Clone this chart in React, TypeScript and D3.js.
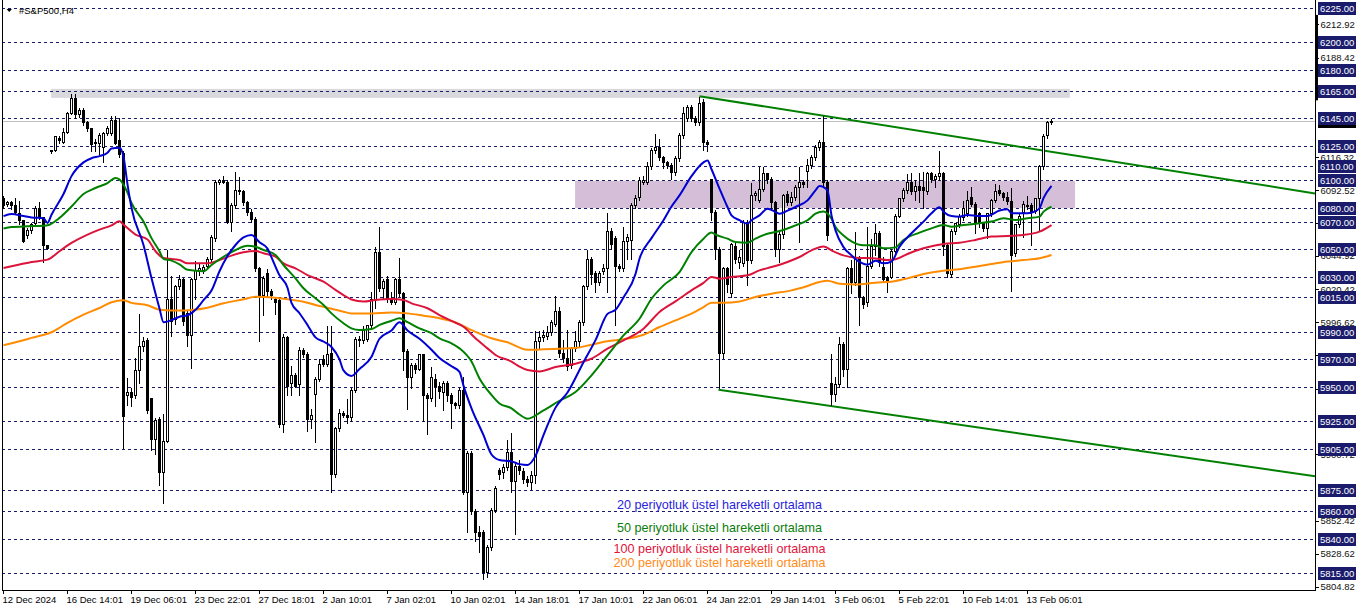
import { useEffect, useRef } from 'react'
import * as d3 from 'd3'

// #S&P500 H4 candles, one entry per bar (12 Dec 2024 -> 14 Feb 2025)
const opens = [
  6087, 6083, 6084, 6082, 6076, 6071, 6060, 6064, 6069, 6080,
  6073, 6053, 6121, 6122, 6131, 6128, 6135, 6149, 6160, 6148,
  6151, 6142, 6138, 6127, 6127, 6124, 6134, 6134, 6144, 6129,
  6120, 5944, 5946, 5944, 5962, 5980, 5984, 5942, 5912, 5927,
  5888, 5911, 6014, 5999, 6023, 6028, 6004, 5988, 6028, 6034,
  6035, 6038, 6043, 6058, 6099, 6100, 6099, 6070, 6082, 6093,
  6092, 6084, 6077, 6072, 6036, 6017, 6033, 6020, 6014, 6013,
  5923, 5986, 5953, 5959, 5952, 5977, 5974, 5927, 5945, 5956,
  5970, 5967, 5975, 5887, 5920, 5931, 5930, 5928, 5948, 5985,
  5984, 5985, 5995, 6014, 6048, 6022, 6028, 6014, 6012, 6028,
  6018, 5976, 5957, 5966, 5963, 5974, 5944, 5942, 5956, 5951,
  5946, 5953, 5944, 5938, 5937, 5948, 5874, 5902, 5860, 5845,
  5845, 5816, 5834, 5861, 5890, 5888, 5892, 5903, 5882, 5893,
  5889, 5883, 5881, 5886, 5983, 5986, 5987, 5990, 5996, 6005,
  5975, 5971, 5966, 5978, 5983, 5997, 6023, 6043, 6033, 6026,
  6034, 6036, 6063, 6058, 6038, 6036, 6056, 6057, 6082, 6088,
  6099, 6099, 6110, 6122, 6124, 6117, 6113, 6111, 6106, 6116,
  6133, 6145, 6153, 6145, 6142, 6157, 6128, 6101, 6077, 6050,
  5975, 6036, 6018, 6052, 6041, 6040, 6070, 6042, 6089, 6086,
  6094, 6105, 6101, 6084, 6050, 6061, 6090, 6084, 6088, 6095,
  6099, 6107, 6111, 6117, 6124, 6128, 6099, 5953, 5945, 5952,
  5981, 5963, 6036, 6026, 6044, 6015, 6012, 6038, 6052, 6062,
  6037, 6030, 6030, 6049, 6074, 6087, 6093, 6099, 6092, 6096,
  6095, 6092, 6105, 6101, 6103, 6105, 6053, 6032, 6063, 6068,
  6073, 6076, 6088, 6083, 6076, 6069, 6065, 6076, 6086, 6093,
  6091, 6088, 6085, 6047, 6068, 6077, 6082, 6082, 6078, 6087,
  6110, 6133, 6142,
]

const highs = [
  6089, 6086, 6086, 6088, 6086, 6072, 6066, 6070, 6082, 6085,
  6074, 6054, 6123, 6133, 6133, 6139, 6150, 6163, 6163, 6153,
  6153, 6144, 6139, 6131, 6135, 6136, 6140, 6147, 6147, 6146,
  6122, 5957, 5950, 5972, 6004, 5987, 5986, 5943, 5928, 5929,
  5931, 6050, 6031, 6025, 6032, 6030, 6006, 6030, 6042, 6041,
  6039, 6045, 6061, 6101, 6102, 6104, 6101, 6084, 6107, 6103,
  6094, 6086, 6080, 6074, 6038, 6031, 6036, 6022, 6016, 6015,
  5989, 5988, 5966, 5961, 5980, 5979, 5976, 5935, 5958, 5971,
  5974, 5995, 5995, 5922, 5935, 5933, 5942, 5950, 5987, 5988,
  5995, 5996, 6020, 6052, 6067, 6029, 6031, 6020, 6030, 6044,
  6020, 5978, 5968, 5968, 5975, 5975, 5946, 5965, 5960, 5954,
  5955, 5955, 5946, 5940, 5950, 5958, 5904, 5904, 5862, 5850,
  5847, 5836, 5863, 5879, 5892, 5895, 5912, 5917, 5895, 5898,
  5892, 5886, 5890, 5991, 5991, 5992, 5995, 5999, 6017, 6009,
  5985, 5992, 5980, 5991, 5999, 6025, 6050, 6045, 6035, 6035,
  6040, 6077, 6066, 6060, 6040, 6067, 6062, 6084, 6090, 6103,
  6104, 6114, 6124, 6134, 6131, 6118, 6115, 6113, 6118, 6135,
  6154, 6155, 6155, 6147, 6161, 6160, 6130, 6102, 6079, 6052,
  6038, 6038, 6055, 6055, 6050, 6072, 6072, 6099, 6093, 6110,
  6110, 6106, 6103, 6086, 6063, 6091, 6093, 6092, 6097, 6110,
  6101, 6116, 6119, 6126, 6130, 6147, 6101, 5975, 5958, 5987,
  5983, 6038, 6043, 6063, 6046, 6017, 6067, 6058, 6069, 6064,
  6045, 6031, 6051, 6076, 6088, 6095, 6105, 6106, 6101, 6106,
  6107, 6107, 6107, 6105, 6122, 6107, 6055, 6065, 6070, 6076,
  6086, 6093, 6096, 6085, 6078, 6070, 6077, 6087, 6098, 6097,
  6092, 6092, 6095, 6069, 6076, 6086, 6089, 6084, 6088, 6112,
  6134, 6144, 6145,
]

const lows = [
  6080, 6081, 6079, 6076, 6068, 6055, 6058, 6062, 6067, 6072,
  6041, 6050, 6120, 6121, 6127, 6127, 6134, 6148, 6145, 6146,
  6140, 6136, 6121, 6121, 6119, 6113, 6133, 6133, 6126, 6117,
  5906, 5937, 5936, 5942, 5953, 5976, 5931, 5904, 5901, 5879,
  5866, 5910, 5987, 5996, 6021, 5995, 5980, 5964, 6014, 6031,
  6033, 6036, 6041, 6056, 6097, 6098, 6069, 6063, 6080, 6090,
  6082, 6075, 6070, 6034, 5983, 6002, 6015, 6014, 6003, 5921,
  5917, 5944, 5944, 5950, 5944, 5972, 5918, 5920, 5910, 5954,
  5965, 5965, 5874, 5885, 5918, 5928, 5924, 5925, 5946, 5980,
  5982, 5983, 5993, 6007, 6020, 6014, 6012, 6010, 6010, 6016,
  5962, 5934, 5949, 5960, 5962, 5925, 5916, 5940, 5936, 5942,
  5933, 5940, 5920, 5935, 5935, 5872, 5845, 5858, 5838, 5830,
  5811, 5812, 5832, 5859, 5883, 5884, 5890, 5874, 5843, 5887,
  5880, 5878, 5876, 5880, 5978, 5983, 5985, 5988, 5994, 5972,
  5968, 5962, 5964, 5976, 5980, 5995, 6021, 6025, 6019, 6024,
  6032, 6019, 6050, 5995, 6034, 6034, 6043, 6043, 6080, 6086,
  6097, 6097, 6108, 6120, 6115, 6109, 6109, 6101, 6104, 6114,
  6131, 6143, 6143, 6140, 6140, 6122, 6121, 6071, 6043, 5949,
  5971, 6019, 6015, 6040, 6036, 6038, 6024, 6040, 6086, 6084,
  6092, 6098, 6080, 6045, 6041, 6058, 6082, 6082, 6086, 6055,
  6095, 6095, 6109, 6115, 6122, 6096, 6057, 5937, 5940, 5950,
  5958, 5950, 6018, 6024, 5995, 6007, 6009, 6036, 6046, 6038,
  6026, 6019, 6029, 6047, 6073, 6085, 6091, 6090, 6086, 6084,
  6080, 6090, 6099, 6095, 6100, 6046, 6030, 6030, 6061, 6066,
  6071, 6074, 6081, 6062, 6066, 6063, 6058, 6074, 6084, 6089,
  6086, 6083, 6020, 6045, 6066, 6059, 6079, 6053, 6076, 6064,
  6108, 6131, 6141,
]

const closes = [
  6082, 6084, 6082, 6077, 6071, 6056, 6064, 6068, 6080, 6073,
  6053, 6051, 6122, 6132, 6129, 6135, 6149, 6160, 6148, 6151,
  6142, 6138, 6126, 6128, 6133, 6134, 6138, 6144, 6127, 6119,
  5929, 5946, 5943, 5962, 5980, 5983, 5933, 5912, 5926, 5888,
  5911, 6014, 5998, 6023, 6028, 5998, 5988, 6028, 6035, 6036,
  6037, 6043, 6059, 6099, 6100, 6099, 6070, 6082, 6093, 6092,
  6084, 6077, 6072, 6036, 6017, 6029, 6020, 6017, 6012, 5923,
  5986, 5951, 5959, 5951, 5977, 5974, 5927, 5930, 5956, 5967,
  5967, 5974, 5887, 5920, 5931, 5930, 5928, 5948, 5985, 5984,
  5991, 5995, 6014, 6048, 6022, 6027, 6014, 6012, 6028, 6018,
  5976, 5957, 5966, 5963, 5974, 5944, 5942, 5957, 5951, 5947,
  5953, 5944, 5938, 5937, 5948, 5874, 5902, 5860, 5845, 5842,
  5816, 5834, 5861, 5877, 5887, 5892, 5903, 5882, 5893, 5890,
  5883, 5881, 5886, 5983, 5986, 5988, 5990, 5997, 6005, 5975,
  5971, 5965, 5978, 5983, 5997, 6023, 6043, 6032, 6026, 6033,
  6036, 6063, 6054, 6038, 6036, 6056, 6059, 6082, 6087, 6100,
  6100, 6110, 6122, 6124, 6117, 6113, 6111, 6106, 6116, 6133,
  6149, 6153, 6145, 6142, 6156, 6128, 6126, 6077, 6050, 5975,
  6036, 6025, 6054, 6043, 6044, 6070, 6042, 6089, 6091, 6094,
  6105, 6101, 6084, 6050, 6061, 6089, 6084, 6088, 6095, 6099,
  6097, 6111, 6117, 6124, 6128, 6099, 6060, 5945, 5952, 5981,
  5963, 6036, 6026, 6043, 6015, 6010, 6038, 6052, 6062, 6041,
  6028, 6027, 6049, 6074, 6087, 6093, 6099, 6092, 6096, 6093,
  6093, 6105, 6101, 6103, 6105, 6052, 6033, 6063, 6069, 6074,
  6080, 6086, 6083, 6069, 6069, 6065, 6076, 6086, 6092, 6091,
  6088, 6085, 6046, 6068, 6074, 6083, 6081, 6077, 6087, 6110,
  6132, 6142, 6143,
]

// moving averages as [bar, price]
const ema20: [number, number][] = [
  [0, 6074], [2, 6075.5], [5, 6074], [7, 6073], [10, 6072.5], [11, 6069], [12, 6075], [15, 6090],
  [17, 6103], [20, 6113], [22, 6116], [24, 6117.5], [26, 6120], [27, 6123], [29, 6123.5], [30, 6117],
  [31, 6097], [32, 6080], [35, 6053], [37, 6029], [39, 6007], [40, 5997], [42, 5998.5], [44, 6001],
  [46, 6002], [48, 6006], [50, 6013], [52, 6020], [54, 6034], [56, 6045], [58, 6053], [60, 6058.5],
  [62, 6060.3], [64, 6055], [66, 6050.5], [67, 6044], [69, 6031], [71, 6022], [72, 6011], [74, 6003.5],
  [76, 5995], [78, 5986], [80, 5983], [82, 5979], [84, 5970], [85, 5962], [87, 5958], [89, 5963],
  [92, 5972], [94, 5985], [97, 5991], [99, 5997], [101, 5991], [104, 5985], [107, 5977], [109, 5971],
  [112, 5965], [114, 5961], [115, 5951], [117, 5934.5], [120, 5915], [122, 5901], [124, 5897], [127, 5896],
  [129, 5894], [131, 5893.4], [133, 5900], [135, 5915], [138, 5935], [141, 5946], [145, 5968], [148, 5984],
  [151, 6003], [153, 6006], [155, 6015], [158, 6032], [159, 6043], [162, 6058], [165, 6071], [167, 6081],
  [169, 6089], [172, 6103], [175, 6113], [176, 6114.4], [177, 6108], [179, 6094], [181, 6080.6], [182, 6074.5],
  [184, 6071], [186, 6068.5], [187, 6071], [189, 6074.5], [191, 6079.4], [193, 6077], [194, 6075.7], [196, 6078],
  [198, 6080.6], [201, 6085.4], [203, 6092.7], [204, 6095.8], [206, 6092.7], [207, 6074.5], [208, 6063.6], [210, 6051.5],
  [212, 6045.5], [214, 6040.7], [216, 6038.7], [218, 6041.5], [220, 6039.7], [222, 6041], [224, 6051.8], [227, 6061.5],
  [230, 6070], [232, 6076], [234, 6080.4], [235, 6077.2], [237, 6074], [239, 6073.6], [241, 6074.8], [244, 6074],
  [246, 6074], [249, 6078], [251, 6079], [252, 6076], [255, 6076], [257, 6076.5], [259, 6079.6], [260, 6087],
  [262, 6096],
]

const ema50: [number, number][] = [
  [0, 6065], [2, 6066], [6, 6066.6], [10, 6067], [11, 6067.3], [14, 6072.7], [17, 6081], [20, 6090],
  [23, 6094.4], [26, 6098], [28, 6101.7], [29, 6100.5], [31, 6091], [32, 6083.5], [35, 6070], [37, 6058],
  [39, 6048.5], [40, 6043], [42, 6041.7], [44, 6039], [46, 6035], [50, 6034], [52, 6038.5], [55, 6044.5],
  [58, 6049.4], [61, 6052.5], [63, 6051.8], [65, 6049.4], [68, 6045.8], [70, 6038.5], [73, 6028.8], [75, 6021.6],
  [78, 6014.3], [80, 6009.5], [82, 6003.4], [85, 5996.2], [87, 5992.5], [89, 5991.3], [92, 5992], [94, 5995],
  [97, 5998], [99, 5999.8], [101, 5997], [104, 5992.5], [107, 5989], [109, 5985.3], [112, 5981.6], [114, 5978],
  [117, 5968.4], [119, 5956.2], [122, 5944.2], [124, 5938], [127, 5934.5], [129, 5930], [131, 5927], [135, 5933],
  [139, 5940], [143, 5946.3], [147, 5958.4], [151, 5972.9], [155, 5987.4], [159, 5999.5], [162, 6014], [165, 6023.7],
  [169, 6033.4], [172, 6047.9], [175, 6057.6], [177, 6062], [178, 6060.5], [181, 6057.6], [183, 6055.2], [186, 6054.7],
  [188, 6057.6], [191, 6061.2], [193, 6062.4], [196, 6065], [198, 6067.3], [201, 6071], [203, 6075.7], [205, 6077.4],
  [207, 6072], [208, 6066], [210, 6060], [212, 6055.7], [215, 6052.8], [218, 6052.8], [220, 6050.6], [223, 6051.3],
  [225, 6056.7], [229, 6062], [232, 6065.1], [235, 6067.5], [237, 6066.3], [240, 6067.5], [244, 6068.8], [247, 6070],
  [250, 6072.4], [253, 6071.2], [256, 6072.4], [259, 6073.6], [260, 6077.2], [262, 6080.8],
]

const ema100: [number, number][] = [
  [0, 6036.4], [4, 6038.8], [7, 6040.7], [11, 6042.4], [14, 6048.5], [17, 6054.5], [21, 6060.6], [24, 6064.2],
  [27, 6067.3], [29, 6070.2], [30, 6067.8], [33, 6060.6], [36, 6057], [38, 6048.5], [40, 6043.6], [44, 6042.2],
  [46, 6039.7], [51, 6039.7], [54, 6042.1], [57, 6045.3], [60, 6047.7], [63, 6048.7], [65, 6047], [68, 6044.5],
  [70, 6039.7], [73, 6036.1], [76, 6031.2], [80, 6026.4], [83, 6020.4], [85, 6016.7], [87, 6013.5], [90, 6012],
  [93, 6013.1], [97, 6013.8], [100, 6013.1], [102, 6010.7], [106, 6007.1], [109, 6002.2], [112, 5997.9], [115, 5993.7],
  [118, 5985.3], [121, 5978], [123, 5973.2], [127, 5968.4], [129, 5964.7], [131, 5962.3], [134, 5961.3], [138, 5964.5],
  [143, 5966.9], [147, 5970.5], [151, 5977.8], [155, 5983.8], [160, 5992.3], [164, 6004.4], [168, 6012.1], [172, 6020.1],
  [175, 6025.5], [177, 6029.8], [179, 6028.6], [182, 6029.8], [186, 6031], [189, 6034.6], [192, 6037], [196, 6040.7],
  [199, 6044.3], [202, 6049.1], [205, 6052], [207, 6049.1], [210, 6045.5], [213, 6043.8], [218, 6043.3], [221, 6042.1],
  [223, 6042.6], [226, 6046.5], [230, 6050.6], [235, 6053.8], [239, 6054.7], [243, 6056.7], [247, 6059.1], [251, 6059.6],
  [255, 6060.3], [259, 6062.7], [262, 6067.5],
]

const ema200: [number, number][] = [
  [0, 5980.3], [4, 5983.2], [7, 5985.6], [12, 5989.7], [16, 5996.5], [20, 6002.5], [24, 6007.3], [27, 6011.5],
  [30, 6012.9], [32, 6011], [36, 6009.3], [39, 6006.1], [44, 6005.4], [47, 6005.8], [51, 6007.5], [55, 6010.7],
  [60, 6013.6], [63, 6015.5], [68, 6014.8], [71, 6013.6], [75, 6011.9], [78, 6009.5], [81, 6007.5], [85, 6004.6],
  [87, 6003.4], [92, 6003.4], [97, 6004.1], [101, 6003.4], [105, 6001.7], [109, 5999.8], [113, 5996.9], [117, 5991.3],
  [122, 5985.3], [126, 5982.4], [131, 5977], [135, 5977.3], [139, 5977.8], [143, 5978.3], [147, 5980.7], [151, 5983.1],
  [155, 5984.6], [160, 5987.9], [164, 5993.5], [168, 5998.3], [172, 6003.2], [175, 6008], [177, 6011.2], [180, 6011.2],
  [184, 6012.1], [188, 6015.3], [192, 6017.7], [197, 6020.1], [201, 6023.3], [204, 6026.2], [206, 6027.1], [209, 6024.9],
  [213, 6024.4], [218, 6025.7], [222, 6026.4], [226, 6028.8], [230, 6032], [235, 6034.4], [239, 6035.4], [243, 6037.3],
  [247, 6039.2], [251, 6041], [255, 6042.1], [259, 6043.4], [262, 6045.8],
]

const timeLabels = [
  '12 Dec 2024', '16 Dec 14:01', '19 Dec 06:01', '23 Dec 22:01', '27 Dec 18:01', '2 Jan 10:01',
  '7 Jan 02:01', '10 Jan 02:01', '14 Jan 18:01', '17 Jan 10:01', '22 Jan 06:01', '24 Jan 22:01',
  '29 Jan 14:01', '3 Feb 06:01', '5 Feb 22:01', '10 Feb 14:01', '13 Feb 06:01',
]
const barsPerLabel = 16

const levelLines = [
  6225, 6200, 6180, 6165, 6145, 6125, 6110, 6100, 6080, 6070, 6050,
  6030, 6015, 5990, 5970, 5950, 5925, 5905, 5875, 5860, 5840, 5815,
]
// scale labels that are not fully hidden under the level boxes
const scaleTicks = [
  6212.92, 6188.42, 6116.32, 6092.52, 6068.72, 6044.92, 6020.42,
  5996.62, 5972.82, 5948.32, 5900.72, 5852.42, 5828.62, 5804.82,
]

const resistanceZone = [6159.8, 6166.3]
const resistanceBars = [11.9, 266.6]
const rangeZone = [6079.9, 6099.5]
const rangeBars = [142.9, 267.9]
const upperChannel: [number, number][] = [[174, 6161], [218.5, 6140.6]]
const lowerChannel: [number, number][] = [[178.75, 5948], [216, 5932.3]]
const bidPrice = 6142.8

const legendLabels = [
  '20 periyotluk üstel hareketli ortalama',
  '50 periyotluk üstel hareketli ortalama',
  '100 periyotluk üstel hareketli ortalama',
  '200 periyotluk üstel hareketli ortalama',
]

const FONT = '"Liberation Sans", Arial, sans-serif'
const lineColors = ['#0000d2', '#008000', '#dc143c', '#ff8c00']
const textColors = ['#2a1edc', '#0a7d0a', '#e0143c', '#ff8c1a']
const NAVY = '#1b1b6c'

export default function App() {
  const ref = useRef<SVGSVGElement>(null)

  useEffect(() => {
    if (!ref.current) return
    const el = ref.current
    const W = 1362, H = 611
    const plotL = 2, plotR = 1315, plotB = 590

    d3.select(el).selectAll('*').remove()
    const svg = d3.select(el).attr('width', W).attr('height', H).attr('font-family', FONT)

    const x = d3.scaleLinear().domain([0, 1]).range([3.5, 7.5])
    const y = d3.scaleLinear().domain([5815, 6225]).range([573, 8])
    const snap = (v: number) => Math.round(v) + 0.5
    const n = Math.min(opens.length, highs.length, lows.length, closes.length)
    const idx = d3.range(n)

    svg.append('rect').attr('width', W).attr('height', H).attr('fill', '#fff')

    // zones in the background
    svg.append('rect')
      .attr('x', x(resistanceBars[0])).attr('width', x(resistanceBars[1]) - x(resistanceBars[0]))
      .attr('y', y(resistanceZone[1])).attr('height', y(resistanceZone[0]) - y(resistanceZone[1]))
      .attr('fill', '#d9d9dd')
    svg.append('rect')
      .attr('x', x(rangeBars[0])).attr('width', x(rangeBars[1]) - x(rangeBars[0]))
      .attr('y', y(rangeZone[1])).attr('height', y(rangeZone[0]) - y(rangeZone[1]))
      .attr('fill', '#d5bfd8')

    // horizontal levels
    svg.append('g').attr('shape-rendering', 'crispEdges')
      .selectAll('line').data(levelLines).join('line')
      .attr('x1', plotL).attr('x2', plotR)
      .attr('y1', d => snap(y(d))).attr('y2', d => snap(y(d)))
      .attr('stroke', NAVY).attr('stroke-dasharray', '3,3')

    // bid line
    svg.append('line').attr('shape-rendering', 'crispEdges')
      .attr('x1', plotL).attr('x2', plotR)
      .attr('y1', snap(y(bidPrice))).attr('y2', snap(y(bidPrice)))
      .attr('stroke', '#c0c0c0')

    // channel lines, extended to the right edge
    const barEnd = x.invert(plotR)
    ;[upperChannel, lowerChannel].forEach(([a, b]) => {
      const slope = (b[1] - a[1]) / (b[0] - a[0])
      svg.append('line')
        .attr('x1', x(a[0])).attr('y1', y(a[1]))
        .attr('x2', x(barEnd)).attr('y2', y(a[1] + slope * (barEnd - a[0])))
        .attr('stroke', '#008000').attr('stroke-width', 2)
    })

    // candles
    const cg = svg.append('g').attr('shape-rendering', 'crispEdges')
    cg.selectAll('line.wick').data(idx).join('line').attr('class', 'wick')
      .attr('x1', i => x(i)).attr('x2', i => x(i))
      .attr('y1', i => snap(y(highs[i]))).attr('y2', i => snap(y(lows[i])))
      .attr('stroke', '#000')
    const top = (i: number) => snap(y(Math.max(opens[i], closes[i])))
    const bot = (i: number) => snap(y(Math.min(opens[i], closes[i])))
    cg.selectAll('rect.body').data(idx.filter(i => bot(i) - top(i) >= 1)).join('rect').attr('class', 'body')
      .attr('x', i => x(i) - 1).attr('width', 2)
      .attr('y', top).attr('height', i => bot(i) - top(i))
      .attr('fill', i => (closes[i] >= opens[i] ? '#fff' : '#000'))
      .attr('stroke', '#000')
    cg.selectAll('line.doji').data(idx.filter(i => bot(i) - top(i) < 1)).join('line').attr('class', 'doji')
      .attr('x1', i => x(i) - 1.5).attr('x2', i => x(i) + 1.5)
      .attr('y1', top).attr('y2', top)
      .attr('stroke', '#000')

    // moving averages
    const line = d3.line<[number, number]>()
      .x(d => x(d[0]))
      .y(d => y(d[1]))
      .curve(d3.curveMonotoneX)
    ;[ema200, ema100, ema50, ema20].forEach((s, k) => {
      svg.append('path').datum(s)
        .attr('fill', 'none')
        .attr('stroke', lineColors[3 - k])
        .attr('stroke-width', 2)
        .attr('stroke-linejoin', 'round')
        .attr('d', line)
    })

    // legend texts
    const legendY = [509, 532, 553, 567]
    svg.append('g').selectAll('text').data(legendLabels).join('text')
      .attr('x', 719.5).attr('y', (_, k) => legendY[k])
      .attr('text-anchor', 'middle')
      .attr('font-size', '12.6px')
      .attr('fill', (_, k) => textColors[k])
      .text(d => d)

    // frame
    svg.append('path')
      .attr('d', `M${plotL + 0.5},0 V${plotB + 0.5} H${plotR + 0.5} V0`)
      .attr('fill', 'none').attr('stroke', '#000').attr('shape-rendering', 'crispEdges')

    // time axis
    svg.append('g')
      .attr('transform', `translate(0,${plotB + 0.5})`)
      .call(d3.axisBottom(x)
        .tickValues(timeLabels.map((_, k) => k * barsPerLabel))
        .tickFormat((_, k) => timeLabels[k])
        .tickSize(3).offset(0))
      .call(g => {
        g.attr('font-family', FONT).attr('font-size', 9.5)
        g.select('.domain').remove()
        g.selectAll('line').attr('stroke', '#000').attr('shape-rendering', 'crispEdges')
        g.selectAll('text').attr('text-anchor', 'start').attr('dx', '-1px').attr('fill', '#000')
      })

    // price axis
    svg.append('g')
      .attr('transform', `translate(${plotR + 0.5},0)`)
      .call(d3.axisRight(y)
        .tickValues(scaleTicks)
        .tickFormat(d => (+d).toFixed(2))
        .tickSize(3).offset(0))
      .call(g => {
        g.attr('font-family', FONT).attr('font-size', 9.5)
        g.select('.domain').remove()
        g.selectAll('line').attr('stroke', '#000').attr('shape-rendering', 'crispEdges')
        g.selectAll('text').attr('fill', '#111').attr('x', 5)
      })

    // current price marker (mostly covered by the 6145 box)
    svg.append('rect')
      .attr('x', plotR + 3).attr('y', snap(y(bidPrice)) - 6.5).attr('width', 38).attr('height', 13)
      .attr('fill', '#000')
    svg.append('rect')
      .attr('x', plotR).attr('y', y(6220)).attr('width', 3).attr('height', y(6158) - y(6220))
      .attr('fill', '#000')

    // level boxes
    const lb = svg.append('g')
    lb.selectAll('rect').data(levelLines).join('rect')
      .attr('x', plotR + 3).attr('y', d => snap(y(d)) - 6.5)
      .attr('width', 38).attr('height', 13)
      .attr('fill', NAVY)
    lb.selectAll('text').data(levelLines).join('text')
      .attr('x', plotR + 5).attr('y', d => snap(y(d)) + 3.5)
      .attr('font-size', 9.5).attr('fill', '#fff')
      .text(d => d.toFixed(2))

    // symbol caption
    svg.append('path').attr('d', 'M6.5,9 L12,9 L9.25,12 Z').attr('fill', '#000')
    svg.append('text')
      .attr('x', 19).attr('y', 14)
      .attr('font-size', 9.5).attr('fill', '#000')
      .text('#S&P500,H4')
  }, [])

  return (
    <div style={{ position: 'absolute', left: 0, top: 0 }}>
      <svg ref={ref} style={{ display: 'block' }} />
    </div>
  )
}
